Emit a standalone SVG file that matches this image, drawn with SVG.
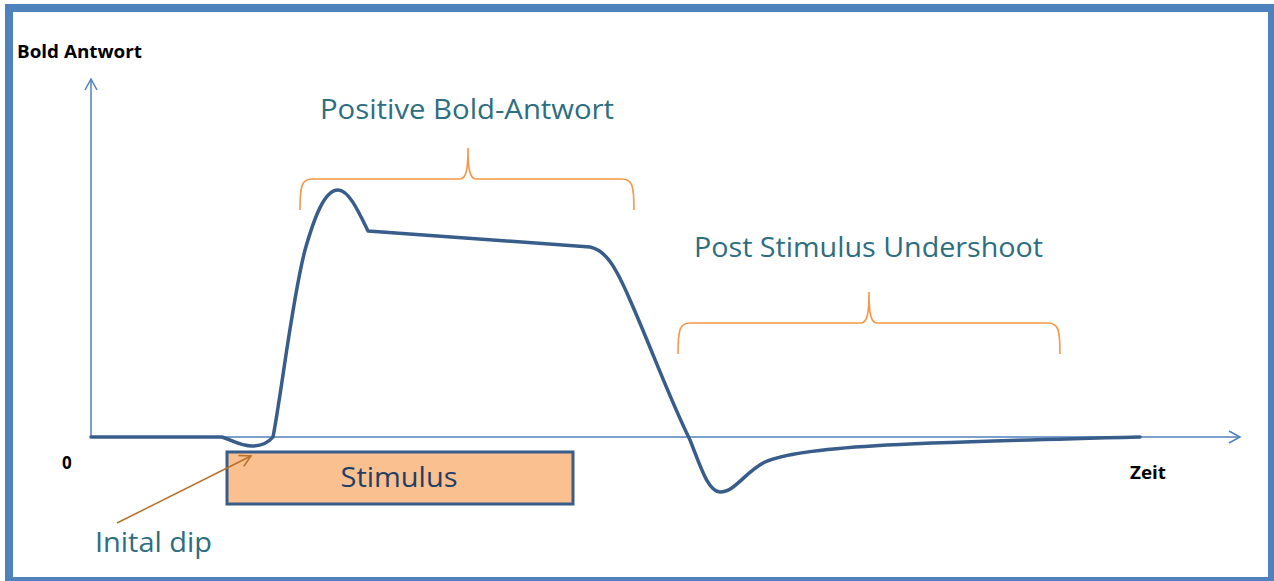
<svg xmlns="http://www.w3.org/2000/svg" width="1274" height="581" viewBox="0 0 1274 581">
  <style>
    .axis { fill: none; stroke: #4f81bd; stroke-width: 1.5; }
    .curve { fill: none; stroke: #385d8a; stroke-width: 3.5; stroke-linejoin: round; stroke-linecap: round; }
    .brace { fill: none; stroke: #f79646; stroke-width: 1.6; }
    .label { font-family: "Open Sans", "Noto Sans", sans-serif; fill: #2d6e80; }
    .axislbl { font-family: "Open Sans", "Noto Sans", sans-serif; font-weight: bold; fill: #000; }
  </style>
  <defs>
    <marker id="openArrow" markerWidth="14" markerHeight="14" refX="12" refY="7" orient="auto" markerUnits="userSpaceOnUse">
      <path d="M1,1 L12,7 L1,13" fill="none" stroke="#4f81bd" stroke-width="1.5"/>
    </marker>
    <marker id="dipArrow" markerWidth="14" markerHeight="14" refX="12" refY="7" orient="auto" markerUnits="userSpaceOnUse">
      <path d="M1,1 L12,7 L1,13" fill="none" stroke="#b8702a" stroke-width="1.5"/>
    </marker>
  </defs>

  <rect x="0" y="0" width="1274" height="581" fill="#ffffff"/>
  <!-- frame -->
  <rect x="9" y="8" width="1263" height="573" fill="none" stroke="#4f81bd" stroke-width="8"/>

  <g id="axes">
    <line class="axis" x1="91" y1="437" x2="91" y2="79" marker-end="url(#openArrow)"/>
    <line class="axis" x1="91" y1="437" x2="1240" y2="437" marker-end="url(#openArrow)"/>
    <text class="axislbl" x="17" y="58" font-size="17" textLength="125" lengthAdjust="spacingAndGlyphs">Bold Antwort</text>
    <text class="axislbl" x="62" y="469" font-size="17">0</text>
    <text class="axislbl" x="1130" y="479" font-size="17" textLength="36" lengthAdjust="spacingAndGlyphs">Zeit</text>
  </g>

  <g id="stimulus">
    <rect x="227" y="452" width="346" height="52" fill="#fac090" stroke="#385d8a" stroke-width="3"/>
    <text class="label" x="399" y="487" font-size="28" text-anchor="middle" style="fill:#1f3f66" textLength="117" lengthAdjust="spacingAndGlyphs">Stimulus</text>
  </g>

  <g id="response-curve">
    <path class="curve" d="M91,437 L222,437 C232,440 240,446 252,446 C262,446 268,443 273,437 C282,390 292,300 305,250 C315,215 325,190 338,190 C348,190 357,208 368,231 L590,247 C605,250 615,265 630,300 C650,345 668,395 690,440 C700,465 708,492 720,492 C735,492 745,472 765,462 C800,446 900,443 1140,437"/>
  </g>

  <g id="positive-response">
    <path class="brace" d="M300,210 C300,185 302,179 312,179 L460,179 C466,179 468,170 468,148 C468,170 470,179 476,179 L622,179 C632,179 634,185 634,210"/>
    <text class="label" x="320" y="119" font-size="28" textLength="294" lengthAdjust="spacingAndGlyphs">Positive Bold-Antwort</text>
  </g>

  <g id="undershoot">
    <path class="brace" d="M678,354 C678,329 680,323 690,323 L861,323 C867,323 869,314 869,292 C869,314 871,323 877,323 L1048,323 C1058,323 1060,329 1060,354"/>
    <text class="label" x="694" y="257" font-size="28" textLength="349" lengthAdjust="spacingAndGlyphs">Post Stimulus Undershoot</text>
  </g>

  <g id="initial-dip">
    <line x1="117" y1="523" x2="251" y2="456" stroke="#b8702a" stroke-width="1.5" marker-end="url(#dipArrow)"/>
    <text class="label" x="95" y="552" font-size="28" textLength="117" lengthAdjust="spacingAndGlyphs">Inital dip</text>
  </g>
</svg>
